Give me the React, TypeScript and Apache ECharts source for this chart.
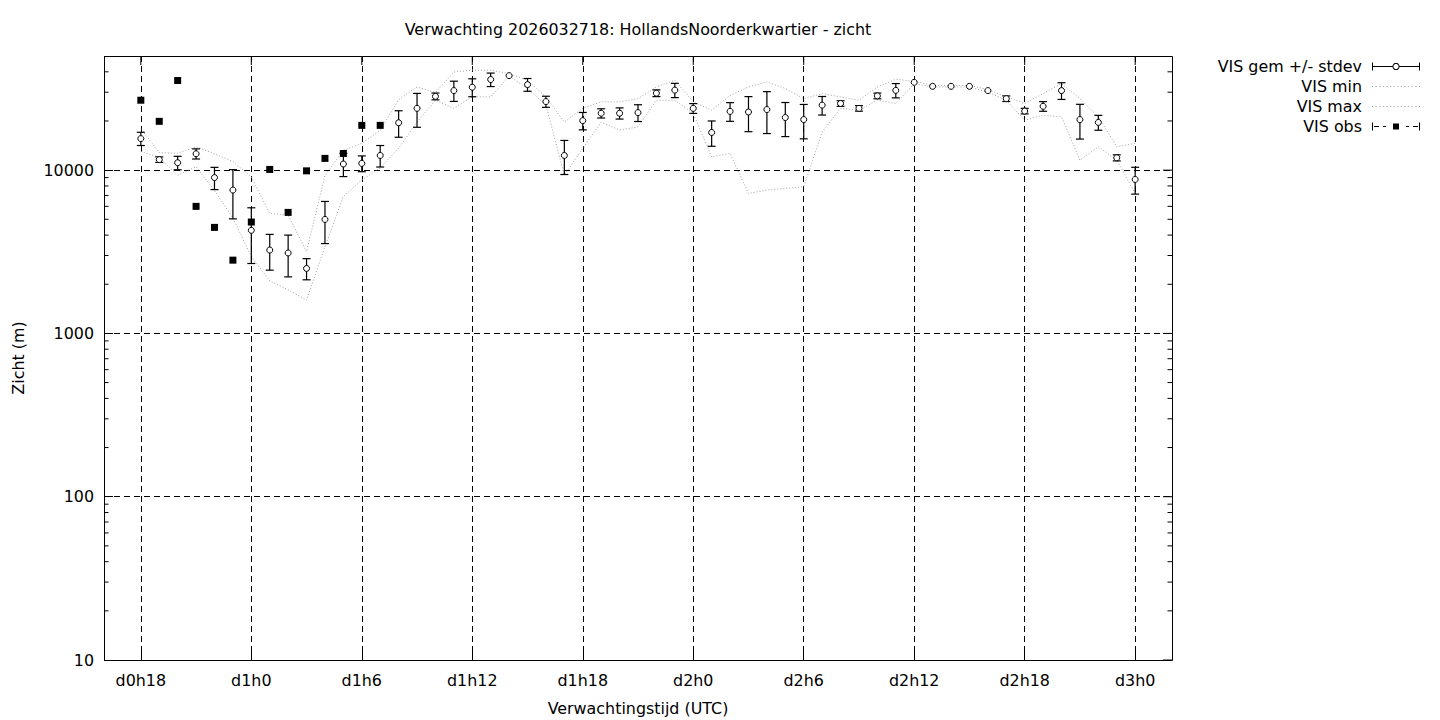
import { useEffect, useRef } from 'react';
import * as echarts from 'echarts';

// ---------- data ----------
const hours = [
  18, 19, 20, 21, 22, 23, 24, 25, 26, 27, 28, 29, 30, 31, 32, 33, 34, 35, 36, 37,
  38, 39, 40, 41, 42, 43, 44, 45, 46, 47, 48, 49, 50, 51, 52, 53, 54, 55, 56, 57,
  58, 59, 60, 61, 62, 63, 64, 65, 66, 67, 68, 69, 70, 71, 72,
];
const gemMean = [
  15600, 11600, 11100, 12600, 9000, 7550, 4280, 3240, 3110, 2500, 4990, 10900, 11000, 12300, 19500, 23900, 28300, 30700, 32200, 35900,
  37900, 33400, 26300, 12300, 20100, 22300, 22300, 22500, 29600, 30900, 23900, 17000, 22900, 22700, 23500, 21000, 20400, 25000, 25600, 23900,
  28500, 30800, 34500, 32600, 32600, 32600, 30700, 27400, 23000, 24600, 30700, 20400, 19600, 11900, 8770,
];
const gemStdev = [
  1450, 450, 1050, 900, 1400, 2520, 1600, 800, 890, 370, 1440, 1770, 1220, 1850, 3600, 5600, 1350, 4350, 4050, 3400,
  0, 3000, 2050, 2900, 2450, 1450, 1750, 2650, 1400, 3100, 1650, 3000, 3000, 5500, 6750, 4950, 4850, 3250, 1000, 930,
  1150, 3100, 0, 0, 0, 0, 0, 1070, 900, 1670, 3600, 4900, 2050, 510, 1640,
];
const visMin = [
  13000, 12000, 9300, 10500, 7500, 5100, 2950, 2100, 1850, 1600, 3400, 6900, 8700, 10300, 13600, 19700, 26800, 23900, 28100, 28100,
  37700, 31600, 25000, 9320, 13600, 19700, 17600, 18400, 26800, 26800, 22200, 12060, 12650, 7200, 7550, 7730, 7910, 17100, 23900, 23300,
  26800, 25600, 33900, 32300, 32300, 32300, 30100, 26800, 20200, 21700, 21200, 11500, 13900, 11500, 7200,
];
const visMax = [
  18000, 12800, 12700, 13900, 12600, 11300, 9100, 5430, 5300, 3170, 9300, 13200, 14600, 17500, 27000, 32300, 29900, 39900, 40900, 40900,
  39000, 35500, 28100, 19700, 23900, 26200, 26200, 27400, 32300, 35500, 26200, 23300, 28700, 32300, 34700, 31600, 27400, 29400, 28100, 26800,
  32300, 36000, 35000, 33100, 33000, 33000, 31200, 28100, 25600, 29400, 33900, 27400, 21200, 13900, 14600,
];
const obsHours = [18, 19, 20, 21, 22, 23, 24, 25, 26, 27, 28, 29, 30, 31];
const obsValues = [26800, 19900, 35400, 6000, 4460, 2810, 4810, 10100, 5510, 9900, 11800, 12650, 18800, 18800];

const xTickHours = [18, 24, 30, 36, 42, 48, 54, 60, 66, 72];
const xTickLabels = ['d0h18', 'd1h0', 'd1h6', 'd1h12', 'd1h18', 'd2h0', 'd2h6', 'd2h12', 'd2h18', 'd3h0'];
const yMajorTicks = [10, 100, 1000, 10000];
const yTickLabels = ['10', '100', '1000', '10000'];
const yMinorTicks = [
  20, 30, 40, 50, 60, 70, 80, 90,
  200, 300, 400, 500, 600, 700, 800, 900,
  2000, 3000, 4000, 5000, 6000, 7000, 8000, 9000,
  20000, 30000, 40000,
];

const X_MIN = 16;
const X_MAX = 74;
const Y_MIN = 10;
const Y_MAX = 50000;

const TITLE = 'Verwachting 2026032718: HollandsNoorderkwartier - zicht';
const FONT = 'DejaVu Sans';
const FS = 15.9;

// ---------- legend icons ----------
function ringPath(cx: number, cy: number, r1: number, r2: number, n: number) {
  let d = '';
  for (let k = 0; k < n; k++) {
    const a = (2 * Math.PI * k) / n;
    d += (k ? 'L' : 'M') + (cx + r1 * Math.cos(a)).toFixed(2) + ' ' + (cy + r1 * Math.sin(a)).toFixed(2) + ' ';
  }
  d += 'Z ';
  for (let k = 0; k < n; k++) {
    const a = (-2 * Math.PI * k) / n;
    d += (k ? 'L' : 'M') + (cx + r2 * Math.cos(a)).toFixed(2) + ' ' + (cy + r2 * Math.sin(a)).toFixed(2) + ' ';
  }
  d += 'Z';
  return d;
}
const gemIcon =
  'path://M0 0 L1 0 L1 8 L0 8 Z M47 0 L48 0 L48 8 L47 8 Z ' +
  'M1 3.5 L20.5 3.5 L20.5 4.5 L1 4.5 Z M27.5 3.5 L47 3.5 L47 4.5 L27.5 4.5 Z ' +
  ringPath(24, 4, 3.6, 2.6, 20);
const obsIcon =
  'path://M0 0 L1 0 L1 8 L0 8 Z M47 0 L48 0 L48 8 L47 8 Z ' +
  'M2 3.5 L7 3.5 L7 4.5 L2 4.5 Z M11 3.5 L14 3.5 L14 4.5 L11 4.5 Z ' +
  'M21 1 L27 1 L27 7 L21 7 Z ' +
  'M34 3.5 L37 3.5 L37 4.5 L34 4.5 Z M41 3.5 L46 3.5 L46 4.5 L41 4.5 Z';
let dots = 'path://';
for (let k = 0; k < 14; k++) {
  const x = k * 3.5;
  dots += `M${x} 3.5 L${x + 1} 3.5 L${x + 1} 4.5 L${x} 4.5 Z `;
}
const dotIcon = dots.trim();

// ---------- render helpers ----------
const black = { stroke: '#000', lineWidth: 1.2 };

function errorBarItem(params: any, api: any) {
  const x = api.value(0);
  const lo = api.value(1);
  const hi = api.value(2);
  if (!(hi > lo)) return { type: 'group', children: [] };
  const pLo = api.coord([x, lo]);
  const pHi = api.coord([x, hi]);
  const half = 4;
  return {
    type: 'group',
    children: [
      { type: 'line', shape: { x1: pLo[0], y1: pLo[1], x2: pHi[0], y2: pHi[1] }, style: black },
      { type: 'line', shape: { x1: pLo[0] - half, y1: pLo[1], x2: pLo[0] + half, y2: pLo[1] }, style: black },
      { type: 'line', shape: { x1: pHi[0] - half, y1: pHi[1], x2: pHi[0] + half, y2: pHi[1] }, style: black },
    ],
  };
}

function yTickItem(len: number, both: boolean) {
  return (params: any, api: any) => {
    const v = api.value(1);
    const l = api.coord([X_MIN, v]);
    const r = api.coord([X_MAX, v]);
    const st = { stroke: '#000', lineWidth: 1 };
    const children: any[] = [
      { type: 'line', shape: { x1: r[0] - len, y1: r[1], x2: r[0], y2: r[1] }, style: st },
    ];
    if (both) children.push({ type: 'line', shape: { x1: l[0], y1: l[1], x2: l[0] + len, y2: l[1] }, style: st });
    return { type: 'group', children };
  };
}

function xTopTickItem(params: any, api: any) {
  const p = api.coord([api.value(0), Y_MAX]);
  return {
    type: 'line',
    shape: { x1: p[0], y1: p[1], x2: p[0], y2: p[1] + 9 },
    style: { stroke: '#000', lineWidth: 1 },
  };
}

function frameItem(params: any, api: any) {
  const tl = api.coord([X_MIN, Y_MAX]);
  const br = api.coord([X_MAX, Y_MIN]);
  const x0 = Math.round(tl[0]) + 0.5;
  const y0 = Math.round(tl[1]) + 0.5;
  const x1 = Math.round(br[0]) + 0.5;
  const y1 = Math.round(br[1]) + 0.5;
  return {
    type: 'rect',
    shape: { x: x0, y: y0, width: x1 - x0, height: y1 - y0 },
    style: { fill: 'none', stroke: '#000', lineWidth: 1 },
  };
}

function xLabel(v: number) {
  const i = xTickHours.indexOf(Math.round(v));
  return i >= 0 ? xTickLabels[i] : '';
}
function yLabel(v: number) {
  const i = yMajorTicks.findIndex((t) => Math.abs(t - v) / t < 1e-6);
  return i >= 0 ? yTickLabels[i] : '';
}

const dashed = { color: '#000', width: 1, type: [6, 4] as number[] };
const dotted = { color: '#a0a0a0', width: 1, type: [1, 2] as number[] };

const option: any = {
  animation: false,
  backgroundColor: '#fff',
  textStyle: { fontFamily: FONT, color: '#000' },
  title: {
    text: TITLE,
    left: 638,
    top: 21,
    padding: 0,
    textAlign: 'center',
    textStyle: { fontFamily: FONT, fontSize: FS, fontWeight: 'normal', color: '#000', lineHeight: 16 },
  },
  legend: {
    orient: 'vertical',
    align: 'right',
    right: 20,
    top: 58.5,
    padding: 0,
    itemGap: 4,
    itemWidth: 48,
    itemHeight: 8,
    selectedMode: false,
    textStyle: { fontFamily: FONT, fontSize: FS, color: '#000', lineHeight: 15, padding: [0, 5, 0, 0] },
    data: [
      { name: 'VIS gem +/- stdev', icon: gemIcon, itemStyle: { color: '#000', borderWidth: 0 } },
      { name: 'VIS min', icon: dotIcon, itemStyle: { color: '#a0a0a0', borderWidth: 0 } },
      { name: 'VIS max', icon: dotIcon, itemStyle: { color: '#a0a0a0', borderWidth: 0 } },
      { name: 'VIS obs', icon: obsIcon, itemStyle: { color: '#000', borderWidth: 0 } },
    ],
  },
  grid: {
    left: 104,
    right: 268,
    top: 56,
    bottom: 60,
    show: false,
    containLabel: false,
    outerBoundsMode: 'none',
  },
  xAxis: {
    type: 'value',
    min: X_MIN,
    max: X_MAX,
    axisLine: { show: false },
    axisTick: { show: true, inside: true, length: 9, customValues: xTickHours, lineStyle: { color: '#000', width: 1 } },
    axisLabel: { customValues: xTickHours, formatter: xLabel, color: '#000', fontFamily: FONT, fontSize: FS, margin: 12 },
    splitLine: { show: true, lineStyle: dashed },
    name: 'Verwachtingstijd (UTC)',
    nameLocation: 'middle',
    nameGap: 40,
    nameTextStyle: { fontFamily: FONT, fontSize: FS, color: '#000' },
  },
  yAxis: {
    type: 'log',
    logBase: 10,
    min: Y_MIN,
    max: Y_MAX,
    axisLine: { show: false },
    axisTick: { show: true, inside: true, length: 9, lineStyle: { color: '#000', width: 1 } },
    axisLabel: { formatter: yLabel, showMaxLabel: false, color: '#000', fontFamily: FONT, fontSize: FS, margin: 10 },
    splitLine: { show: true, lineStyle: dashed },
    name: 'Zicht (m)',
    nameLocation: 'middle',
    nameGap: 78,
    nameTextStyle: { fontFamily: FONT, fontSize: FS, color: '#000' },
  },
  series: [
    {
      name: 'VIS min',
      type: 'line',
      silent: true,
      symbol: 'none',
      data: hours.map((h, i) => [h, visMin[i]]),
      lineStyle: dotted,
      itemStyle: { color: '#a0a0a0' },
      z: 2,
    },
    {
      name: 'VIS max',
      type: 'line',
      silent: true,
      symbol: 'none',
      data: hours.map((h, i) => [h, visMax[i]]),
      lineStyle: dotted,
      itemStyle: { color: '#a0a0a0' },
      z: 2,
    },
    {
      name: 'VIS gem +/- stdev',
      type: 'custom',
      silent: true,
      renderItem: errorBarItem,
      encode: { x: 0, y: [1, 2] },
      data: hours.map((h, i) => [h, gemMean[i] - gemStdev[i], gemMean[i] + gemStdev[i]]),
      itemStyle: { color: '#000' },
      z: 3,
    },
    {
      name: 'VIS gem +/- stdev',
      type: 'scatter',
      silent: true,
      symbol: 'circle',
      symbolSize: 6,
      data: hours.map((h, i) => [h, gemMean[i]]),
      itemStyle: { color: '#fff', borderColor: '#000', borderWidth: 1, opacity: 1 },
      z: 4,
    },
    {
      name: 'VIS obs',
      type: 'scatter',
      silent: true,
      symbol: 'rect',
      symbolSize: 7,
      data: obsHours.map((h, i) => [h, obsValues[i]]),
      itemStyle: { color: '#000', opacity: 1 },
      z: 5,
    },
    {
      name: 'yMinorTicks',
      type: 'custom',
      silent: true,
      renderItem: yTickItem(4.5, true),
      data: yMinorTicks.map((v) => [X_MIN, v]),
      z: 6,
    },
    {
      name: 'yMajorTicks',
      type: 'custom',
      silent: true,
      renderItem: yTickItem(9, false),
      data: yMajorTicks.map((v) => [X_MIN, v]),
      z: 6,
    },
    {
      name: 'xTopTicks',
      type: 'custom',
      silent: true,
      renderItem: xTopTickItem,
      data: xTickHours.map((h) => [h, Y_MAX]),
      z: 6,
    },
    {
      name: 'frame',
      type: 'custom',
      silent: true,
      renderItem: frameItem,
      data: [[X_MIN, Y_MIN]],
      z: 7,
    },
  ],
};

export default function App() {
  const ref = useRef<HTMLDivElement>(null);
  useEffect(() => {
    if (!ref.current) return;
    const chart = echarts.init(ref.current, null, { renderer: 'svg' });
    chart.setOption(option);
    return () => chart.dispose();
  }, []);
  return (
    <div
      ref={ref}
      style={{ position: 'fixed', left: 0, top: 0, width: 1440, height: 720, background: '#fff' }}
    />
  );
}
